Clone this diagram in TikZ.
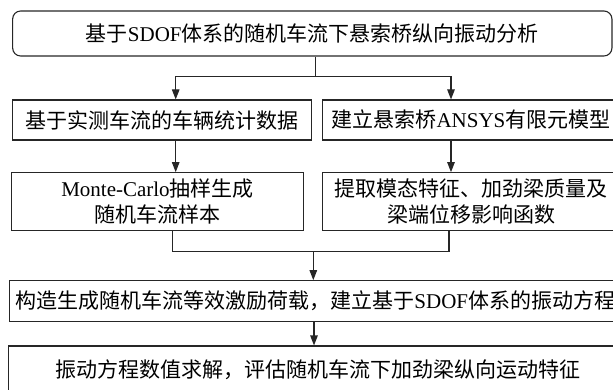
\documentclass[tikz,border=0pt]{standalone}
\usepackage{fontspec}
\setmainfont{Liberation Serif}
\newfontfamily\cjk{Noto Sans CJK SC}
\usetikzlibrary{arrows.meta}
\newcommand\zh[1]{{\cjk #1}}
\begin{document}
\begin{tikzpicture}[x=1pt,y=-1pt,
  box/.style={draw=black!85, line width=1.1pt, inner sep=0pt, align=center,
    font=\fontsize{21}{25.6}\selectfont},
  conn/.style={draw=black!85, line width=1.1pt},
  arr/.style={conn, -{Triangle[length=10pt,width=7.5pt]}}]
\useasboundingbox (0,0) rectangle (613,390);
\clip (0,0) rectangle (613,390);
\node[box, rounded corners=8pt, minimum width=599.3pt, minimum height=45pt] (top) at (312.3,33.5)
  {\zh{基于}SDOF\zh{体系的随机车流下悬索桥纵向振动分析}};
\node[box, minimum width=298.7pt, minimum height=40pt] (r2l) at (161.7,120)
  {\zh{基于实测车流的车辆统计数据}};
\node[box, minimum width=297pt, minimum height=40pt] (r2r) at (471,120)
  {\zh{建立悬索桥}ANSYS\zh{有限元模型}};
\node[box, minimum width=291.6pt, minimum height=58pt] (r3l) at (157.5,201.7)
  {Monte-Carlo\zh{抽样生成}\\\zh{随机车流样本}};
\node[box, minimum width=297pt, minimum height=58pt] (r3r) at (471,201.7)
  {\zh{提取模态特征、加劲梁质量及}\\\zh{梁端位移影响函数}};
\node[box, minimum width=612pt, minimum height=41pt] (r4) at (315.3,301.2)
  {\zh{构造生成随机车流等效激励荷载，建立基于}SDOF\zh{体系的振动方程}};
\node[box, minimum width=620pt, minimum height=48pt] (r5) at (318.3,370)
  {\zh{振动方程数值求解，评估随机车流下加劲梁纵向运动特征}};
\coordinate (s1) at (315.7,76.7);
\coordinate (aL) at (175.7,0);
\coordinate (aR) at (451,0);
\coordinate (bL) at (172.3,0);
\coordinate (bR) at (449,0);
\coordinate (s2) at (313.3,251.7);
\coordinate (s3) at (314,0);
\draw[conn] (top.south -| s1) -- (s1);
\draw[arr] (s1) -| (aL |- r2l.north);
\draw[arr] (s1) -| (aR |- r2r.north);
\draw[arr] (aL |- r2l.south) -- (aL |- r3l.north);
\draw[arr] (aR |- r2r.south) -- (aR |- r3r.north);
\draw[conn] (bL |- r3l.south) |- (s2) -| (bR |- r3r.south);
\draw[arr] (s2) -- (s2 |- r4.north);
\draw[arr] (s3 |- r4.south) -- (s3 |- r5.north);
\end{tikzpicture}
\end{document}
